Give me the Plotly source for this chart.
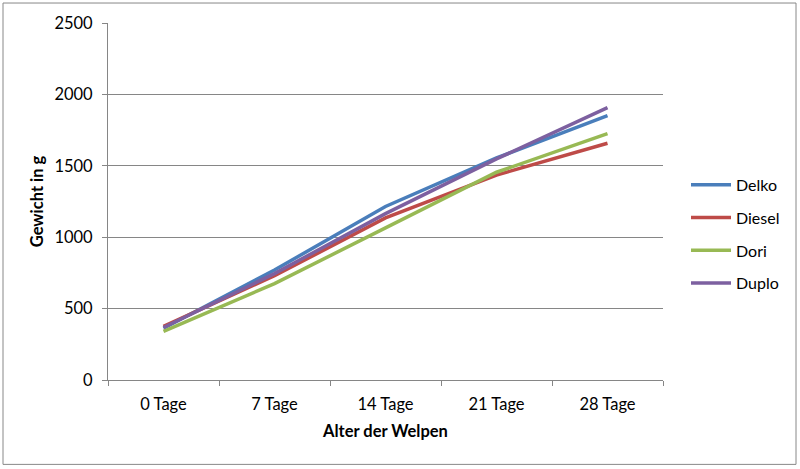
import plotly.graph_objects as go

categories = ["0 Tage", "7 Tage", "14 Tage", "21 Tage", "28 Tage"]
delko = [362, 770, 1215, 1555, 1852]
diesel = [376, 730, 1135, 1435, 1658]
dori = [340, 675, 1065, 1455, 1725]
duplo = [368, 745, 1165, 1548, 1908]

series = [
    ("Delko", delko, "#4A7EBB"),
    ("Diesel", diesel, "#BE4B48"),
    ("Dori", dori, "#98B954"),
    ("Duplo", duplo, "#7D60A0"),
]

FONT = "Lato, 'Liberation Sans', sans-serif"
GRID = "#868686"

fig = go.Figure()
for name, vals, col in series:
    fig.add_trace(go.Scatter(
        x=categories, y=vals, name=name, mode="lines", legendgroup=name,
        line=dict(color=col, width=3.5),
    ))

W, H = 800, 469
L, R, T, B = 108, 137, 23, 88.5
pw = W - L - R
ph = H - T - B

def px2paper_x(p):
    return (p - L) / pw

def px2paper_y(p):
    return (H - B - p) / ph

fig.add_shape(type="rect", xref="paper", yref="paper",
              x0=px2paper_x(3), x1=px2paper_x(796),
              y0=px2paper_y(465), y1=px2paper_y(3),
              line=dict(color="#888888", width=1), fillcolor="rgba(0,0,0,0)",
              layer="below")

fig.update_layout(
    width=W, height=H,
    margin=dict(l=L, r=R, t=T, b=B, autoexpand=False),
    paper_bgcolor="white", plot_bgcolor="white",
    font=dict(family=FONT, size=16, color="#000000"),
    showlegend=True,
    legend=dict(
        x=px2paper_x(686), y=px2paper_y(168), xanchor="left", yanchor="top",
        font=dict(family=FONT, size=16, color="#000000"),
        tracegroupgap=9, itemwidth=40,
        bgcolor="rgba(0,0,0,0)",
    ),
    xaxis=dict(
        type="category", range=[-0.5, 4.5],
        tickson="boundaries",
        ticks="outside", ticklen=5, tickcolor=GRID,
        showline=True, linecolor=GRID, linewidth=1,
        showgrid=False, zeroline=False,
        tickfont=dict(family=FONT, size=16.5),
        ticklabelstandoff=9,
        title=dict(text="<b>Alter der Welpen</b>", font=dict(family=FONT, size=16.5), standoff=12),
    ),
    yaxis=dict(
        range=[0, 2500], dtick=500,
        ticks="outside", ticklen=5, tickcolor=GRID,
        showline=True, linecolor=GRID, linewidth=1,
        showgrid=True, gridcolor=GRID, gridwidth=1,
        zeroline=False,
        tickfont=dict(family=FONT, size=16.5),
        ticklabelstandoff=6,
        title=dict(text="<b>Gewicht in g</b>", font=dict(family=FONT, size=16.5), standoff=6),
    ),
)

fig.write_html("out.html",
               config={"displayModeBar": False},
               post_script="document.body.style.margin='0';document.body.style.overflow='hidden';")
